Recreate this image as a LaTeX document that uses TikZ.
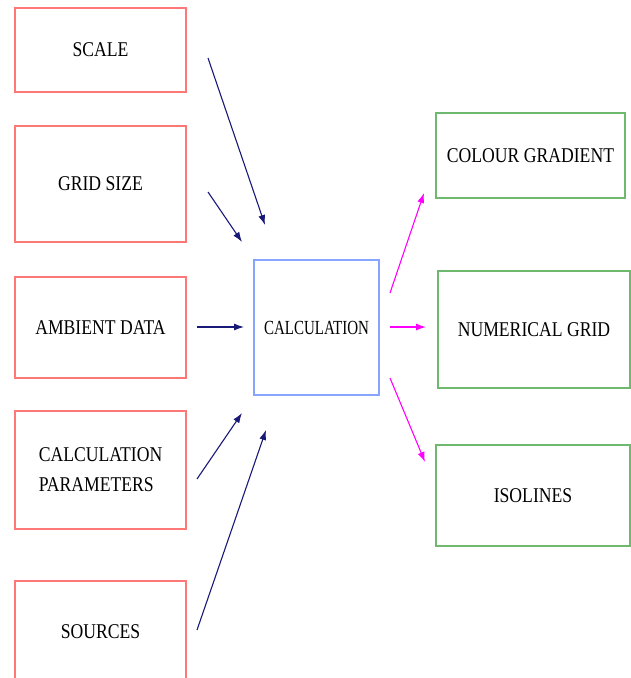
\documentclass[tikz,border=0pt]{standalone}
\usepackage{fontspec}
\setmainfont{Liberation Serif}
\newfontfamily\boxfont[FakeStretch=0.84]{Liberation Serif}
\newfontfamily\calcfont[FakeStretch=0.75]{Liberation Serif}
\usepackage{tikz}
\usetikzlibrary{arrows.meta}

\definecolor{inred}{RGB}{255,120,120}
\definecolor{calcblue}{RGB}{135,165,255}
\definecolor{outgreen}{RGB}{110,185,110}
\definecolor{navyarrow}{RGB}{25,25,120}
\definecolor{pinkarrow}{RGB}{255,0,255}

\tikzset{
  inbox/.style={draw=inred, line width=1.3pt, minimum width=171pt, inner sep=0pt},
  calcbox/.style={draw=calcblue, line width=1.1pt, minimum width=125pt, minimum height=135pt, inner sep=0pt},
  outbox/.style={draw=outgreen, line width=1.2pt, inner sep=0pt},
  inarrow/.style={draw=navyarrow, line width=1.1pt, -{Latex[length=10pt,width=7pt]}},
  outarrow/.style={draw=pinkarrow, line width=1.1pt, -{Latex[length=10pt,width=7pt]}},
  lbl/.style={font=\boxfont\fontsize{21}{30}\selectfont, align=center}
}

\begin{document}
\begin{tikzpicture}[x=1pt,y=-1pt]
   \clip (0,0) rectangle (631,678);
   \fill[white] (0,0) rectangle (631,678);

   % inputs
   \begin{scope}[every node/.append style={lbl}]
     \node[inbox, minimum height=84pt]  (scale)   at (100.5,50)    {SCALE};
     \node[inbox, minimum height=116pt] (gridsize) at (100.5,184)  {GRID SIZE};
     \node[inbox, minimum height=101pt] (ambient) at (100.5,327.5) {AMBIENT DATA};
     \node[inbox, minimum height=118pt, align=left] (params) at (100.5,470) {CALCULATION\\PARAMETERS};
     \node[inbox, minimum height=102pt] (sources) at (100.5,632)   {SOURCES};
   \end{scope}

   % the calculation
   \node[calcbox, font=\calcfont\fontsize{20}{24}\selectfont] (calc) at (316.5,327.5) {CALCULATION};

   % outputs
   \begin{scope}[every node/.append style={lbl}]
     \node[outbox, minimum width=189pt, minimum height=85pt]  (gradient) at (530.5,155.5) {COLOUR GRADIENT};
     \node[outbox, minimum width=192pt, minimum height=117pt] (numgrid)  at (534,329.5)   {NUMERICAL GRID};
     \node[outbox, minimum width=194pt, minimum height=101pt] (isolines) at (533,495.5)   {ISOLINES};
   \end{scope}

   % free arrow ends
   \coordinate (scaleout)   at (208,58);
   \coordinate (scalein)    at (265,225);
   \coordinate (gridout)    at (208,192);
   \coordinate (gridin)     at (242,242);
   \coordinate (ambientout) at (197,327);
   \coordinate (ambientin)  at (244,327);
   \coordinate (paramsout)  at (197,479);
   \coordinate (paramsin)   at (242,413);
   \coordinate (sourcesout) at (197,630);
   \coordinate (sourcesin)  at (266,430);

   \coordinate (toupper)  at (390,293);
   \coordinate (upperend) at (424,193);
   \coordinate (tomid)    at (390,327);
   \coordinate (midend)   at (426,327);
   \coordinate (tolower)  at (390,378);
   \coordinate (lowerend) at (425,462);

   \draw[inarrow] (scaleout) -- (scalein);
   \draw[inarrow] (gridout) -- (gridin);
   \draw[inarrow] (ambientout) -- (ambientin);
   \draw[inarrow] (paramsout) -- (paramsin);
   \draw[inarrow] (sourcesout) -- (sourcesin);

   \draw[outarrow] (toupper) -- (upperend);
   \draw[outarrow] (tomid) -- (midend);
   \draw[outarrow] (tolower) -- (lowerend);
\end{tikzpicture}
\end{document}
